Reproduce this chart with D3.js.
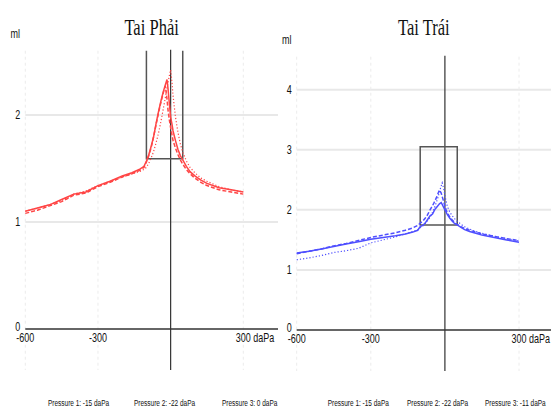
<!DOCTYPE html>
<html>
<head>
<meta charset="utf-8">
<script src="https://cdn.jsdelivr.net/npm/d3@7/dist/d3.min.js"></script>
<style>
	html, body { margin: 0; padding: 0; background: #fff; }
	svg { display: block; }
</style>
</head>
<body>
<svg id="chart" width="551" height="415"></svg>
<script>
	// pressure points (daPa), shared by all series
	var pressure = [-600,-550,-500,-450,-400,-350,-300,-250,-200,-160,-130,-110,-100,-90,-80,-70,-60,-50,-40,-30,-22,-15,-11,-5,0,5,10,20,30,40,50,65,80,100,125,150,200,250,300];

	// Tai Phai (right ear), ml
	var rightEar1 = [1.10,1.13,1.16,1.21,1.26,1.28,1.34,1.38,1.43,1.46,1.49,1.52,1.57,1.63,1.71,1.80,1.92,2.03,2.13,2.22,2.28,2.33,2.25,2.10,1.98,1.92,1.85,1.76,1.68,1.62,1.58,1.52,1.47,1.43,1.39,1.36,1.32,1.30,1.28];
	var rightEar2 = [1.08,1.11,1.15,1.19,1.25,1.27,1.33,1.37,1.42,1.45,1.48,1.51,1.56,1.62,1.70,1.80,1.91,2.02,2.12,2.21,2.27,2.15,2.05,1.95,1.88,1.82,1.76,1.69,1.63,1.58,1.54,1.49,1.45,1.41,1.37,1.34,1.30,1.28,1.26];
	var rightEar3 = [1.10,1.13,1.16,1.20,1.26,1.29,1.34,1.38,1.42,1.45,1.47,1.49,1.51,1.55,1.60,1.66,1.74,1.83,1.94,2.06,2.16,2.25,2.30,2.37,2.42,2.32,2.18,1.98,1.84,1.73,1.65,1.57,1.51,1.46,1.41,1.38,1.33,1.30,1.28];

	// Tai Trai (left ear), ml
	var leftEar1 = [1.28,1.31,1.35,1.39,1.43,1.47,1.51,1.54,1.57,1.60,1.63,1.66,1.72,1.74,1.78,1.84,1.90,1.93,2.01,2.06,2.10,2.12,2.09,2.04,2.00,1.96,1.92,1.86,1.81,1.77,1.75,1.71,1.67,1.64,1.61,1.58,1.54,1.50,1.46];
	var leftEar2 = [1.27,1.31,1.35,1.40,1.44,1.49,1.54,1.58,1.62,1.66,1.70,1.74,1.78,1.81,1.86,1.92,2.00,2.07,2.15,2.25,2.33,2.28,2.22,2.14,2.06,2.00,1.95,1.88,1.83,1.79,1.76,1.72,1.69,1.66,1.63,1.60,1.56,1.52,1.49];
	var leftEar3 = [1.17,1.20,1.24,1.29,1.32,1.36,1.45,1.50,1.55,1.60,1.64,1.67,1.70,1.73,1.77,1.82,1.88,1.96,2.06,2.18,2.30,2.40,2.45,2.36,2.24,2.14,2.06,1.96,1.90,1.85,1.81,1.76,1.72,1.68,1.64,1.61,1.56,1.52,1.48];

	var xTicks = [-600, -300, 300];
	var rightYTicks = [0, 1, 2];
	var leftYTicks = [0, 1, 2, 3, 4];
	var rightLegend = ["Pressure 1: -15 daPa", "Pressure 2: -22 daPa", "Pressure 3: 0 daPa"];
	var leftLegend = ["Pressure 1: -15 daPa", "Pressure 2: -22 daPa", "Pressure 3: -11 daPa"];
	// compliance box: pressure range and ml range
	var rightBox = { p: [-100, 50], ml: [1.59, 2.8] };
	var leftBox = { p: [-100, 50], ml: [1.75, 3.05] };

	var svg = d3.select("#chart");
	var squeeze = 0.72;

	function label(g, text, x, y, size, anchor, family) {
		return g.append("text")
			.attr("transform", "translate(" + x + "," + y + ") scale(" + squeeze + ",1)")
			.attr("text-anchor", anchor || "middle")
			.attr("font-family", family || "'Liberation Sans', Arial, sans-serif")
			.attr("font-size", size)
			.attr("fill", "#111")
			.text(text);
	}

	function drawEar(opt) {
		var g = svg.append("g");
		var x = d3.scaleLinear().domain([-600, 300]).range([opt.left, opt.x300]);
		var y = d3.scaleLinear().domain([0, opt.yMax]).range([opt.bottom, opt.top]);
		var lineBottom = opt.bottom + 41;

		// horizontal grid
		g.selectAll(".hgrid").data(opt.yTicks.filter(function(d) { return d > 0; }))
			.enter().append("line")
			.attr("x1", opt.left).attr("x2", opt.right)
			.attr("y1", y).attr("y2", y)
			.attr("stroke", "#e8e8e8").attr("stroke-width", 2);
		// vertical dashed grid
		g.selectAll(".vgrid").data(xTicks)
			.enter().append("line")
			.attr("x1", x).attr("x2", x)
			.attr("y1", opt.top).attr("y2", lineBottom)
			.attr("stroke", "#ececec").attr("stroke-width", 1)
			.attr("stroke-dasharray", "3,3");

		// zero pressure line and zero ml axis
		g.append("line")
			.attr("x1", x(0)).attr("x2", x(0))
			.attr("y1", opt.top - 1).attr("y2", lineBottom)
			.attr("stroke", "#333").attr("stroke-width", 1.2);
		g.append("line")
			.attr("x1", opt.left).attr("x2", opt.right)
			.attr("y1", y(0)).attr("y2", y(0))
			.attr("stroke", "#333").attr("stroke-width", 1.5);

		// box, top clipped at plot top
		var bx0 = x(opt.box.p[0]), bx1 = x(opt.box.p[1]);
		var by0 = y(opt.box.ml[0]);
		var by1 = y(Math.min(opt.box.ml[1], opt.yMax));
		var d = "M" + bx0 + "," + by1 + "V" + by0 + "H" + bx1 + "V" + by1;
		if (opt.box.ml[1] <= opt.yMax) d += "Z";
		g.append("path").attr("d", d)
			.attr("fill", "none").attr("stroke", "#555").attr("stroke-width", 1.5);

		// curves
		var line = d3.line()
			.x(function(d, i) { return x(pressure[i]); })
			.y(function(d) { return y(d); });
		var dashes = [null, "4,2", "1.2,2"];
		opt.series.forEach(function(s, i) {
			g.append("path")
				.attr("d", line(s))
				.attr("fill", "none")
				.attr("stroke", opt.color)
				.attr("stroke-width", i == 2 ? 1.2 : 1.5)
				.attr("stroke-dasharray", dashes[i]);
		});

		// labels
		label(g, "ml", opt.left - 10, opt.top - 13, 12.5);
		opt.yTicks.forEach(function(t) {
			label(g, t, opt.left - 5, y(t) + (t == 0 ? 2 : 4.5), 12.5, "end");
		});
		xTicks.forEach(function(t, i) {
			if (i == xTicks.length - 1) {
				label(g, t + " daPa", x(t) - 7.5, y(0) + 13, 12.5, "start");
			} else {
				label(g, t, x(t), y(0) + 13, 12.5);
			}
		});
		label(g, opt.title, (opt.left + opt.right) / 2, 35, 23, "middle", "'Liberation Serif', 'Times New Roman', serif");
		opt.legend.forEach(function(t, i) {
			label(g, t, opt.legendX[i], 406, 9, "start");
		});
	}

	drawEar({
		title: "Tai Phải", color: "#ff4545",
		left: 25.3, x300: 243.3, right: 278,
		top: 50.7, bottom: 329, yMax: 2.6, yTicks: rightYTicks,
		box: rightBox, series: [rightEar1, rightEar2, rightEar3],
		legend: rightLegend, legendX: [48, 134, 222]
	});
	drawEar({
		title: "Tai Trái", color: "#4f4fff",
		left: 296.7, x300: 519, right: 551,
		top: 56.7, bottom: 330, yMax: 4.55, yTicks: leftYTicks,
		box: leftBox, series: [leftEar1, leftEar2, leftEar3],
		legend: leftLegend, legendX: [327.7, 407, 485]
	});
</script>
</body>
</html>
